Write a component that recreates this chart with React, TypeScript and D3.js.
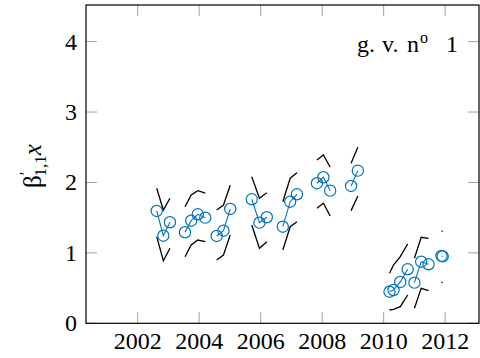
import React from "react";
import * as d3 from "d3";

const groupIds = [1,1,1, 2,2,2,2, 3,3,3, 4,4,4, 5,5,5, 6,6,6, 7,7, 8,8,8,8, 9,9,9, 10,10];
const years = [2002.62,2002.835,2003.05, 2003.54,2003.74,2003.955,2004.2, 2004.57,2004.79,2005.01, 2005.71,2005.96,2006.2, 2006.72,2006.96,2007.18, 2007.83,2008.04,2008.26, 2008.94,2009.16, 2010.19,2010.32,2010.54,2010.78, 2011.0,2011.22,2011.46, 2011.88,2011.92];
const values = [1.595,1.244,1.435, 1.293,1.457,1.548,1.5, 1.24,1.315,1.624, 1.761,1.429,1.506, 1.372,1.727,1.832, 1.989,2.074,1.884, 1.95,2.168, 0.449,0.473,0.587,0.767, 0.577,0.875,0.838, 0.956,0.95];
const upper = [1.918,1.609,1.776, 1.656,1.822,1.884,1.847, 1.609,1.68,1.96, 2.082,1.776,1.855, 1.727,2.06,2.139, 2.32,2.39,2.216, 2.273,2.5, 0.71,0.828,0.946,1.126, 0.923,1.222,1.207, 1.311,1.306];
const lower = [1.23,0.889,1.065, 0.946,1.112,1.183,1.159, 0.9,0.97,1.254, 1.396,1.065,1.159, 1.041,1.372,1.443, 1.634,1.705,1.524, 1.6,1.808, 0.189,0.199,0.236,0.402, 0.213,0.497,0.463, 0.582,0.578];
const xTicks = [2002, 2004, 2006, 2008, 2010, 2012];
const yTicks = [0, 1, 2, 3, 4];

const W = 480, H = 358;
const L = 86, R = 479, T = 5, B = 323.3;
const BLUE = "#0072BD";
const FONT = "Liberation Serif, Times New Roman, serif";

export default function App() {
  const x = d3.scaleLinear().domain([2000.32, 2013.1]).range([L, R]);
  const y = d3.scaleLinear().domain([0, 4.52]).range([B, T]);
  const ids = Array.from(new Set(groupIds));
  const idx = (g: number) => groupIds.map((v, i) => (v === g ? i : -1)).filter((i) => i >= 0);
  const mk = (arr: number[]) =>
    d3.line<number>().x((i) => x(years[i])).y((i) => y(arr[i]));
  const tl = 11;
  const ts = { fontFamily: FONT };
  return (
    <svg width={W} height={H} style={{ position: "absolute", left: 0, top: 0, background: "#fff" }}>
      {xTicks.map((t) => (
        <g key={"xt" + t} stroke="#a0a0a0" strokeWidth={1}>
          <line x1={x(t)} x2={x(t)} y1={B} y2={B - tl} />
          <line x1={x(t)} x2={x(t)} y1={T} y2={T + tl} />
        </g>
      ))}
      {yTicks.map((t) => (
        <g key={"yt" + t} stroke="#a0a0a0" strokeWidth={1}>
          <line x1={L} x2={L + tl} y1={y(t)} y2={y(t)} />
          <line x1={R} x2={R - tl} y1={y(t)} y2={y(t)} />
        </g>
      ))}
      {ids.map((g) => {
        const ii = idx(g);
        return (
          <g key={"b" + g} fill="none" stroke="#000" strokeWidth={1.3}>
            <path d={mk(upper)(ii) || ""} />
            <path d={mk(lower)(ii) || ""} />
          </g>
        );
      })}
      {ids.map((g) => {
        const ii = idx(g);
        return (
          <g key={"s" + g}>
            <path d={mk(values)(ii) || ""} fill="none" stroke={BLUE} strokeWidth={1.1} />
            {ii.map((i) => (
              <circle key={i} cx={x(years[i])} cy={y(values[i])} r={5.6} fill="none" stroke={BLUE} strokeWidth={1.2} />
            ))}
          </g>
        );
      })}
      <rect x={L} y={T} width={R - L} height={B - T} fill="none" stroke="#000" strokeWidth={1.2} />
      {xTicks.map((t) => (
        <text key={"xl" + t} x={x(t)} y={349} textAnchor="middle" style={ts} fontSize={24}>
          {t}
        </text>
      ))}
      {yTicks.map((t) => (
        <text key={"yl" + t} x={77} y={y(t) + 8} textAnchor="end" style={ts} fontSize={24}>
          {t}
        </text>
      ))}
      <g style={ts} fontSize={24}>
        <text x={357} y={52}>g.</text>
        <text x={382} y={52}>v.</text>
        <text x={407} y={52}>n</text>
        <text x={420} y={43} fontSize={16}>o</text>
        <text x={446} y={52}>1</text>
      </g>
      <text transform="translate(41,166) rotate(-90)" textAnchor="middle" style={ts} fontSize={25}>
        β<tspan fontSize={17} dy={-10}>′</tspan>
        <tspan fontSize={17} dy={15} dx={-5}>1,1</tspan>
        <tspan dy={-5} fontStyle="italic">x</tspan>
      </text>
    </svg>
  );
}
